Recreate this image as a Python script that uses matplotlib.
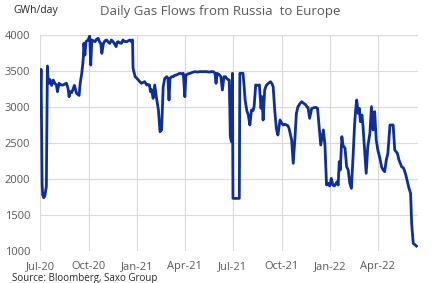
#!/usr/bin/env python3
"""Daily gas flows from Russia to Europe, GWh/day (Jul-20 to Jun-22)."""

import matplotlib

matplotlib.use("Agg")
import matplotlib.dates as mdates  # noqa: E402
import matplotlib.pyplot as plt  # noqa: E402
import pandas as pd  # noqa: E402

START = "2020-07-01"

# days since START
DAYS = [
    0, 2, 4, 5, 7, 9, 12, 14, 15, 17, 19, 22, 25, 28, 31, 33, 36, 40, 44, 47,
    50, 53, 55, 57, 60, 62, 65, 67, 69, 72, 74, 76, 79, 81, 82, 83, 85, 87, 91, 94,
    96, 98, 101, 104, 107, 110, 113, 115, 117, 120, 123, 126, 129, 132, 135, 139, 142, 144, 146, 148,
    151, 154, 157, 160, 164, 167, 170, 173, 175, 176, 180, 183, 186, 189, 192, 195, 198, 202, 205, 207,
    209, 211, 214, 217, 220, 222, 224, 227, 230, 233, 236, 240, 242, 244, 246, 249, 252, 255, 258, 262,
    265, 268, 271, 274, 276, 280, 284, 288, 293, 298, 302, 308, 315, 320, 325, 328, 331, 333, 335, 339,
    342, 345, 348, 351, 353, 356, 358, 360, 362, 364, 365, 370, 377, 378, 384, 386, 388, 391, 394, 397,
    400, 403, 405, 408, 412, 415, 418, 420, 422, 425, 428, 432, 436, 439, 441, 444, 447, 450, 454, 457,
    460, 463, 466, 469, 471, 476, 479, 482, 485, 488, 492, 495, 499, 503, 505, 507, 510, 514, 518, 522,
    525, 528, 531, 534, 536, 539, 542, 545, 548, 551, 554, 557, 560, 562, 564, 566, 568, 571, 573, 577,
    580, 583, 586, 589, 592, 595, 597, 599, 602, 604, 606, 609, 611, 614, 617, 620, 624, 627, 630, 633,
    636, 639, 643, 646, 649, 652, 655, 658, 662, 668, 671, 676, 679, 684, 688, 692, 695, 698, 701, 703,
    706, 712,
]
GWH = [
    2866, 3523, 1940, 1780, 1740, 1760, 1894, 3569, 3420, 3330, 3380, 3300, 3375, 3330, 3306, 3213, 3329, 3306, 3306, 3320,
    3329, 3260, 3143, 3213, 3200, 3236, 3300, 3250, 3190, 3175, 3160, 3329, 3468, 3600, 3699, 3884, 3722, 3907, 3931, 3986,
    3583, 3931, 3920, 3907, 3940, 3954, 3900, 3884, 3745, 3884, 3920, 3931, 3900, 3884, 3931, 3900, 3861, 3838, 3900, 3907,
    3890, 3884, 3931, 3910, 3907, 3920, 3931, 3907, 3931, 3537, 3421, 3400, 3375, 3350, 3329, 3340, 3352, 3306, 3310, 3306,
    3213, 3240, 3120, 3306, 3143, 3050, 2958, 2657, 2681, 3282, 3398, 3421, 3400, 3097, 3398, 3421, 3421, 3440, 3444, 3460,
    3468, 3460, 3468, 3143, 3444, 3460, 3468, 3480, 3491, 3485, 3491, 3491, 3491, 3485, 3491, 3491, 3468, 3329, 3468, 3450,
    3421, 3236, 3421, 3420, 3398, 3380, 3375, 2588, 2518, 3468, 1731, 1731, 1731, 3468, 3468, 3300, 3097, 2958, 2889, 2750,
    2958, 2950, 3005, 3306, 3300, 3306, 2981, 3143, 2819, 3236, 3300, 3329, 3352, 3320, 3282, 2958, 2704, 2611, 2819, 2780,
    2750, 2760, 2750, 2740, 2704, 2542, 2218, 2542, 2912, 3005, 3050, 3074, 3050, 3028, 3000, 2995, 2843, 2981, 2990, 2995,
    2981, 2727, 2472, 2600, 2681, 2472, 1917, 1940, 1903, 2009, 1917, 1903, 1940, 1963, 1917, 2241, 2125, 2588, 2472, 2426,
    2171, 2125, 1940, 1870, 2287, 2750, 2950, 3097, 2912, 2981, 2796, 2889, 2727, 2403, 2079, 2449, 2634, 3005, 2681, 2935,
    2542, 2403, 2287, 2171, 2125, 2102, 2264, 2356, 2750, 2750, 2403, 2356, 2264, 2171, 2148, 2056, 1963, 1870, 1801, 1384,
    1106, 1069,
]

LINE = "#0c2e9e"
GRID = "#d9d9d9"
LABEL = "#595959"


def main() -> None:
    plt.rcParams["font.family"] = ["Open Sans", "DejaVu Sans"]
    dates = pd.Timestamp(START) + pd.to_timedelta(DAYS, unit="D")

    fig = plt.figure(figsize=(4.32, 2.83), dpi=100)
    ax = fig.add_axes([40 / 432, 1 - 251 / 283, 378 / 432, 216 / 283])
    ax.plot(dates, GWH, color=LINE, linewidth=2.0, solid_joinstyle="round")

    ax.set_xlim(pd.Timestamp(START), pd.Timestamp("2022-06-16"))
    ax.set_ylim(1000, 4000)
    ax.set_yticks(range(1000, 4001, 500))
    ax.xaxis.set_major_locator(mdates.MonthLocator(bymonth=[1, 4, 7, 10]))
    ax.xaxis.set_major_formatter(mdates.DateFormatter("%b-%y"))

    ax.grid(True, color=GRID, linewidth=0.8)
    ax.set_axisbelow(True)
    for side in ax.spines.values():
        side.set_visible(False)
    ax.tick_params(length=0, labelsize=8, labelcolor=LABEL, pad=7)

    fig.text(13 / 432, 1 - 11 / 283, "GWh/day", fontsize=7.5, color="#262626",
             ha="left", va="center")
    fig.text(100 / 432, 1 - 11 / 283, "Daily Gas Flows from Russia  to Europe",
             fontsize=9.5, color=LABEL, ha="left", va="center")
    fig.text(12 / 432, 1 - 279 / 283, "Source: Bloomberg, Saxo Group",
             fontsize=7, color="#262626", ha="left", va="center")

    fig.savefig("out.png", dpi=100)


if __name__ == "__main__":
    main()
